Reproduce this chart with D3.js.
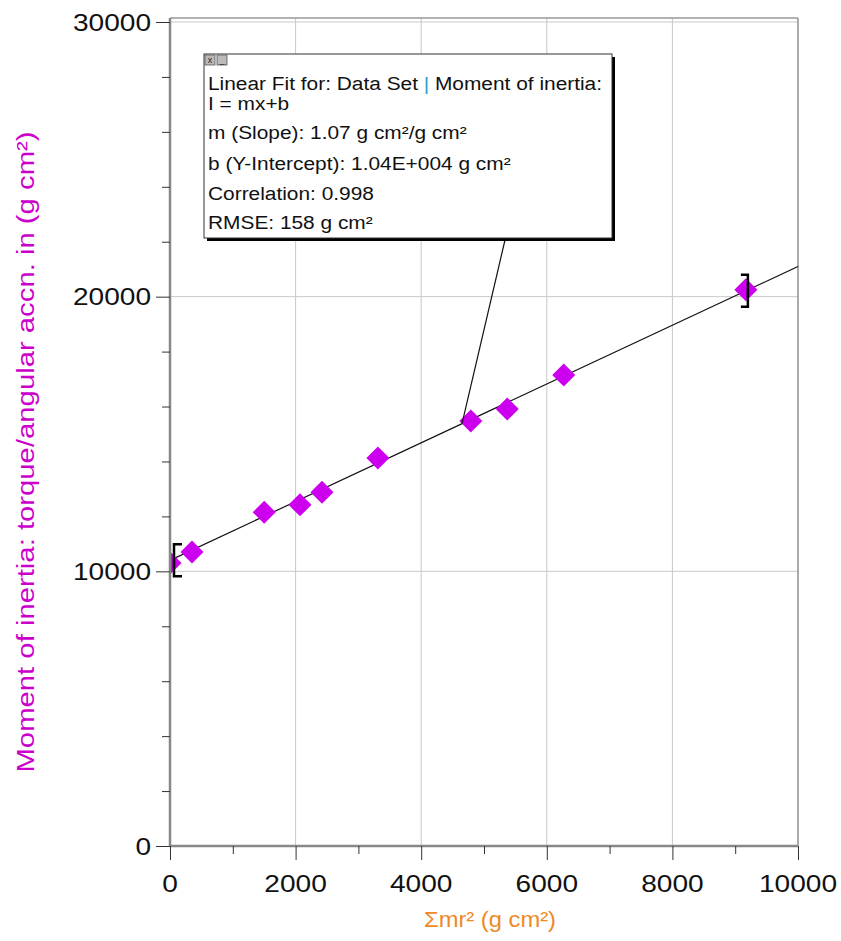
<!DOCTYPE html>
<html>
<head>
<meta charset="utf-8">
<script src="https://cdn.jsdelivr.net/npm/d3@7"></script>
<style>
  body { margin: 0; background: #fff; }
  text { font-family: Arial, "Liberation Sans", sans-serif; }
</style>
</head>
<body>
<div id="viz-container"></div>
<script>
let width = 841;
let height = 941;

// data
let inertiaSum = [0, 350, 1500, 2070, 2420, 3310, 4790, 5370, 6270, 9170];
let inertiaMeasured = [10300, 10700, 12150, 12420, 12880, 14130, 15470, 15910, 17150, 20250];
let fitSlope = 1.07;
let fitIntercept = 10400;
let fitRange = [0, 9170];
let xTicks = [0, 2000, 4000, 6000, 8000, 10000];
let yTicks = [0, 10000, 20000, 30000];
let fitLines = [
  'Linear Fit for: Data Set | Moment of inertia:',
  'I = mx+b',
  'm (Slope): 1.07 g cm\u00b2/g cm\u00b2',
  'b (Y-Intercept): 1.04E+004 g cm\u00b2',
  'Correlation: 0.998',
  'RMSE: 158 g cm\u00b2'
];

let plotLeft = 170, plotRight = 798, plotTop = 22, plotBottom = 846;
let stretch = 1.17; // screen text in the original is a bit wider than plain Arial

let viz = d3.select('#viz-container')
  .append('svg')
  .attr('width', width)
  .attr('height', height);

viz.append('clipPath').attr('id', 'plotClip')
  .append('rect')
  .attr('x', plotLeft).attr('y', 18)
  .attr('width', plotRight - plotLeft).attr('height', plotBottom - 18);

let x = d3.scaleLinear().domain([0, 10000]).range([plotLeft, plotRight]);
let y = d3.scaleLinear().domain([0, 30000]).range([plotBottom, plotTop]);

// grid
viz.selectAll('.vgrid').data(xTicks.slice(1)).enter()
  .append('line')
  .attr('x1', d => x(d)).attr('x2', d => x(d))
  .attr('y1', 18).attr('y2', plotBottom)
  .attr('stroke', '#c8c8c8').attr('stroke-width', 1);
viz.selectAll('.hgrid').data(yTicks.slice(1)).enter()
  .append('line')
  .attr('x1', plotLeft).attr('x2', plotRight)
  .attr('y1', d => y(d)).attr('y2', d => y(d))
  .attr('stroke', '#c8c8c8').attr('stroke-width', 1);

// frame
viz.append('line').attr('x1', plotLeft).attr('x2', plotRight).attr('y1', 18).attr('y2', 18)
  .attr('stroke', '#999').attr('stroke-width', 1.5);
viz.append('line').attr('x1', plotRight).attr('x2', plotRight).attr('y1', 18).attr('y2', plotBottom)
  .attr('stroke', '#999').attr('stroke-width', 1.5);

// fit line
viz.append('line')
  .attr('x1', x(0)).attr('y1', y(fitIntercept))
  .attr('x2', x(10000)).attr('y2', y(fitIntercept + fitSlope * 10000))
  .attr('stroke', '#111').attr('stroke-width', 1.2);

// points
viz.append('g').attr('clip-path', 'url(#plotClip)')
  .selectAll('.pt').data(inertiaSum).enter()
  .append('path')
  .attr('class', 'pt')
  .attr('d', 'M0,-11.5L11.5,0L0,11.5L-11.5,0Z')
  .attr('transform', (d, i) => 'translate(' + x(d) + ',' + y(inertiaMeasured[i]) + ')')
  .attr('fill', '#cc00ee');

// axes
let xAxis = viz.append('g')
  .attr('transform', 'translate(0,' + plotBottom + ')')
  .call(d3.axisBottom(x).tickValues(d3.range(0, 10001, 1000)).tickSize(9).tickFormat(''));
xAxis.selectAll('.tick line').attr('stroke', '#333')
  .attr('y2', d => d % 2000 === 0 ? 14 : 8);
xAxis.select('.domain').attr('stroke', '#888').attr('stroke-width', 2.5).attr('d', 'M' + plotLeft + ',0H' + plotRight);
viz.selectAll('.xlab').data(xTicks).enter()
  .append('text')
  .attr('transform', d => 'translate(' + x(d) + ',' + (plotBottom + 46) + ') scale(' + stretch + ',1)')
  .attr('text-anchor', 'middle')
  .attr('font-size', 24)
  .attr('fill', '#111')
  .text(d => d);

let yAxis = viz.append('g')
  .attr('transform', 'translate(' + plotLeft + ',0)')
  .call(d3.axisLeft(y).tickValues(d3.range(0, 30001, 2000)).tickSize(8).tickFormat(''));
yAxis.selectAll('.tick line').attr('stroke', '#333')
  .attr('x2', d => d % 10000 === 0 ? -14 : -8);
yAxis.select('.domain').attr('stroke', '#888').attr('stroke-width', 2.5).attr('d', 'M0,18V' + plotBottom);
viz.selectAll('.ylab').data(yTicks).enter()
  .append('text')
  .attr('transform', d => 'translate(' + (plotLeft - 19) + ',' + (y(d) + 8.5) + ') scale(' + stretch + ',1)')
  .attr('text-anchor', 'end')
  .attr('font-size', 24)
  .attr('fill', '#111')
  .text(d => d);

// axis titles
viz.append('text')
  .attr('transform', 'translate(34,452) rotate(-90) scale(1.22,1)')
  .attr('text-anchor', 'middle')
  .attr('font-size', 24)
  .attr('fill', '#cc00cc')
  .text('Moment of inertia: torque/angular accn. in  (g cm\u00b2)');
viz.append('text')
  .attr('transform', 'translate(490,927) scale(1.08,1)')
  .attr('text-anchor', 'middle')
  .attr('font-size', 22)
  .attr('fill', '#ee8a26')
  .text('\u03a3mr\u00b2 (g cm\u00b2)');

// fit range brackets
let bx0 = x(fitRange[0]) + 4, by0 = y(fitIntercept + fitSlope * fitRange[0]);
viz.append('path')
  .attr('d', 'M' + (bx0 + 8) + ',' + (by0 - 16) + 'H' + bx0 + 'V' + (by0 + 16) + 'H' + (bx0 + 8))
  .attr('fill', 'none').attr('stroke', '#000').attr('stroke-width', 2.5);
let bx1 = x(fitRange[1]) + 2, by1 = y(fitIntercept + fitSlope * fitRange[1]);
viz.append('path')
  .attr('d', 'M' + (bx1 - 7) + ',' + (by1 - 16) + 'H' + bx1 + 'V' + (by1 + 16) + 'H' + (bx1 - 7))
  .attr('fill', 'none').attr('stroke', '#000').attr('stroke-width', 2.5);

// leader from box to line
let leadX = 4650;
viz.append('line')
  .attr('x1', 505).attr('y1', 240)
  .attr('x2', x(leadX)).attr('y2', y(fitIntercept + fitSlope * leadX))
  .attr('stroke', '#111').attr('stroke-width', 1.2);

// annotation box
viz.append('rect')
  .attr('x', 207).attr('y', 57).attr('width', 408).attr('height', 184)
  .attr('fill', '#000');
viz.append('rect')
  .attr('x', 204).attr('y', 54).attr('width', 408).attr('height', 184)
  .attr('fill', '#fff').attr('stroke', '#333').attr('stroke-width', 1);

// little window buttons
['x', '_'].forEach(function(s, i) {
  viz.append('rect')
    .attr('x', 205 + i * 12).attr('y', 55).attr('width', 10).attr('height', 10)
    .attr('fill', '#bbb').attr('stroke', '#555').attr('stroke-width', 0.8);
  viz.append('text')
    .attr('x', 210 + i * 12).attr('y', 63)
    .attr('text-anchor', 'middle')
    .attr('font-size', 9)
    .attr('fill', '#222')
    .text(s);
});

let lineY = [90, 110, 139, 170, 200, 229];
viz.selectAll('.fitText').data(fitLines).enter()
  .append('text')
  .attr('transform', (d, i) => 'translate(208,' + lineY[i] + ') scale(1.16,1)')
  .attr('font-size', 18)
  .attr('fill', '#111')
  .each(function(d, i) {
    if (i === 0) {
      let parts = d.split('|');
      d3.select(this).append('tspan').text(parts[0]);
      d3.select(this).append('tspan').attr('fill', '#2aa0d0').text('|');
      d3.select(this).append('tspan').text(parts[1]);
    } else {
      d3.select(this).text(d);
    }
  });
</script>
</body>
</html>
